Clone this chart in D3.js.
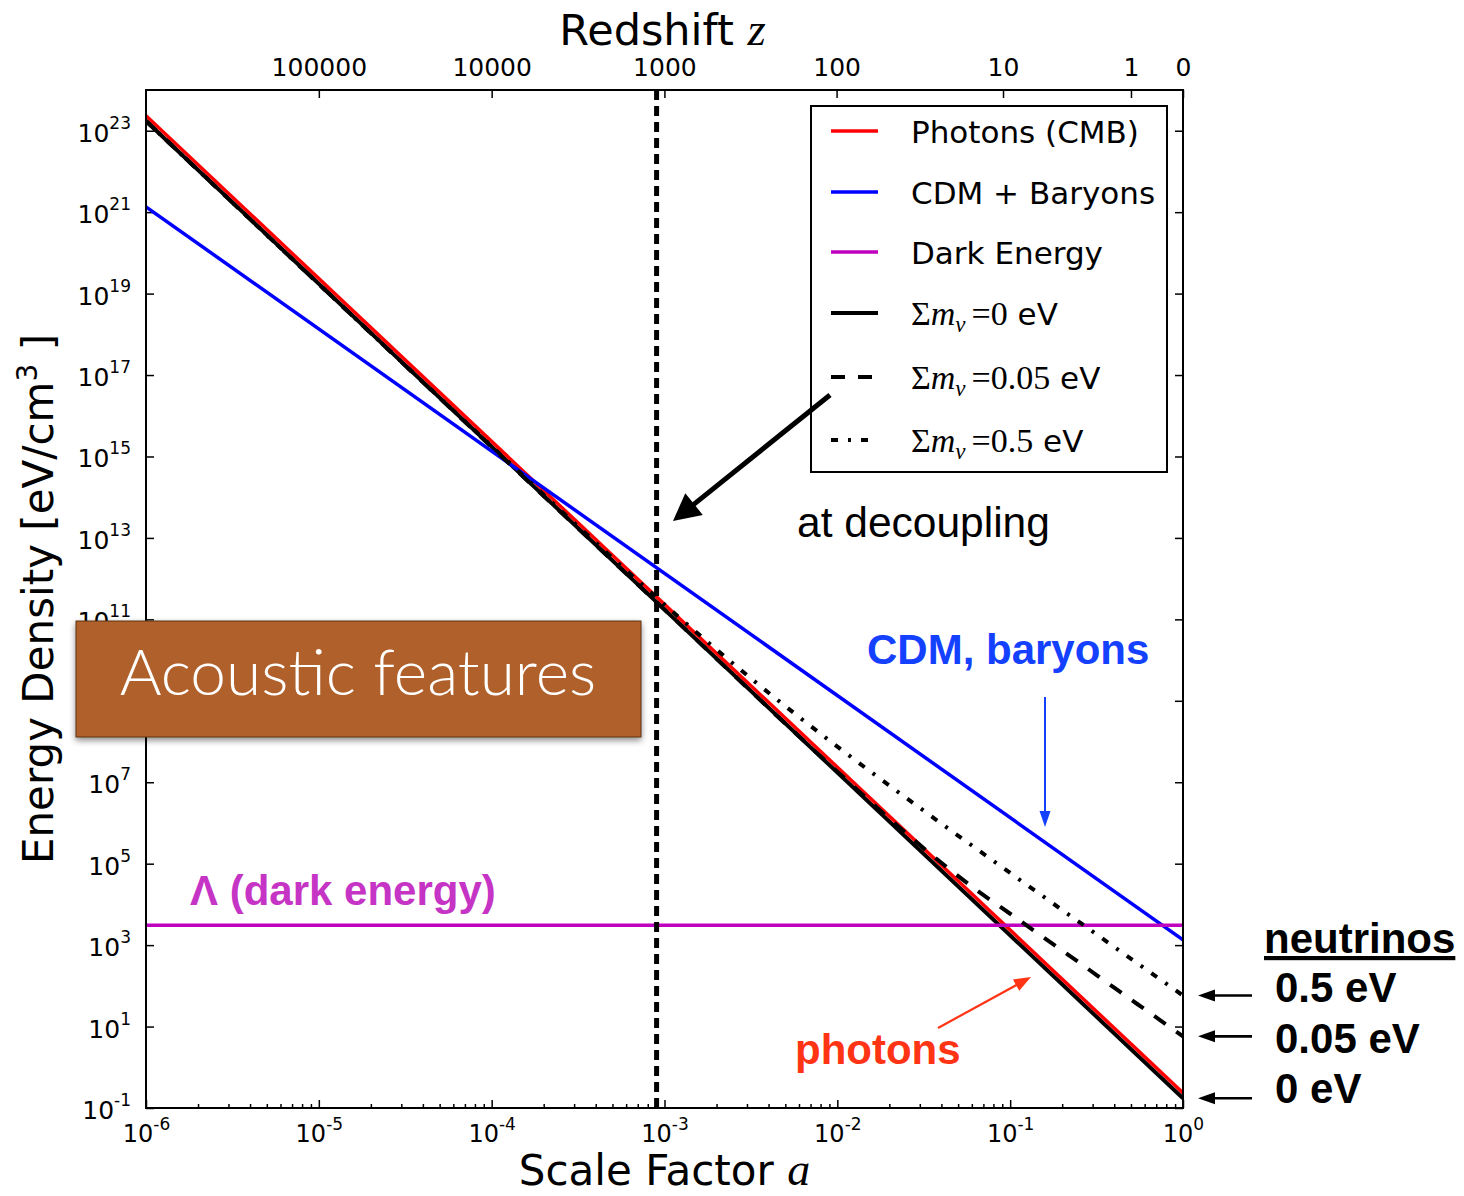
<!DOCTYPE html>
<html>
<head>
<meta charset="utf-8">
<script src="https://cdn.jsdelivr.net/npm/d3@7"></script>
<style>
  html, body { margin: 0; padding: 0; background: #fff; }
  svg { display: block; }
</style>
</head>
<body>
<svg id="chart" width="1464" height="1196"></svg>
<script>
// ---- energy density (eV/cm^3) against scale factor a ----
const photonA = [1e-6, 1];
const photonRho = [2.34e23, 0.234];
const matterA = [1e-6, 1];
const matterRho = [1.35e21, 1349];
const lambdaA = [1e-6, 1];
const lambdaRho = [3090, 3090];
const nu0A = [1e-6, 1];
const nu0Rho = [1.74e23, 0.174];
const nu005A = [1e-6, 1e-3, 1e-2, 0.0251, 0.0398, 0.0631, 0.1, 0.158, 0.251, 0.398, 0.631, 1];
const nu005Rho = [1.74e23, 1.74e11, 1.82e7, 5.5e5, 1.07e5, 2.34e4, 5890, 1480, 372, 91.2, 22.9, 5.75];
const nu05A = [1e-6, 1e-4, 3.16e-4, 1e-3, 1.78e-3, 3.16e-3, 5.62e-3, 1e-2, 0.0316, 0.1, 0.316, 1];
const nu05Rho = [1.74e23, 1.79e15, 1.92e13, 2.31e11, 2.76e10, 3.56e9, 4.98e8, 7.50e7, 2.0e6, 5.93e4, 1840, 57.7];
const aDecoupling = 9.0e-4;

// ---- axis ticks ----
const xTicks = [1e-6, 1e-5, 1e-4, 1e-3, 1e-2, 1e-1, 1];
const xTickExp = ["-6", "-5", "-4", "-3", "-2", "-1", "0"];
const yTicks = [1e-1, 1e1, 1e3, 1e5, 1e7, 1e9, 1e11, 1e13, 1e15, 1e17, 1e19, 1e21, 1e23];
const yTickExp = ["-1", "1", "3", "5", "7", "9", "11", "13", "15", "17", "19", "21", "23"];
const zTicks = [100000, 10000, 1000, 100, 10, 1, 0];
const zTickLabels = ["100000", "10000", "1000", "100", "10", "1", "0"];

// ---- legend ----
const legendLabels = ["Photons (CMB)", "CDM + Baryons", "Dark Energy", "0 eV", "0.05 eV", "0.5 eV"];
const legendMath = ["", "", "", "0", "0.05", "0.5"];

const SANS = "'DejaVu Sans', sans-serif";
const SERIF = "'Liberation Serif', 'DejaVu Serif', serif";
const HELV = "'Liberation Sans', Arial, sans-serif";

const svg = d3.select("#chart");
const pL = 146, pR = 1183, pT = 90, pB = 1108;

const x = d3.scaleLog().domain([1e-6, 1]).range([pL, pR]);
const y = d3.scaleLog().domain([1e-1, 1e24]).range([pB, pT]);

const defs = svg.append("defs");
defs.append("clipPath").attr("id", "plotClip")
  .append("rect").attr("x", pL).attr("y", pT)
  .attr("width", pR - pL).attr("height", pB - pT);
const shadow = defs.append("filter").attr("id", "boxShadow")
  .attr("x", "-10%").attr("y", "-10%").attr("width", "120%").attr("height", "130%");
shadow.append("feDropShadow").attr("dx", 0).attr("dy", 3).attr("stdDeviation", 3)
  .attr("flood-color", "#000").attr("flood-opacity", 0.45);

// ---- axes ----
function styleAxis(g) {
  g.select(".domain").remove();
  g.selectAll(".tick line").attr("stroke", "#000").attr("stroke-width", 1.5);
}
function powerLabels(g, exps, supDy) {
  g.selectAll(".tick text").each(function (d, i) {
    const t = d3.select(this);
    t.text(null);
    t.append("tspan").text("10");
    t.append("tspan").attr("dy", supDy).attr("font-size", 17).text(exps[i]);
  });
}

// bottom: scale factor
const minorX = [];
for (let e = -6; e < 0; e++) for (let k = 2; k <= 9; k++) minorX.push(k * Math.pow(10, e));
svg.append("g").attr("transform", `translate(0,${pB})`)
  .call(d3.axisBottom(x).tickValues(minorX).tickSize(-4).tickSizeOuter(0).tickFormat(""))
  .call(styleAxis);
svg.append("g").attr("transform", `translate(0,${pB})`)
  .call(d3.axisBottom(x).tickValues(xTicks).tickSize(-8).tickSizeOuter(0))
  .call(styleAxis)
  .call(g => g.selectAll(".tick text").attr("font-family", SANS).attr("font-size", 24)
    .attr("fill", "#000").attr("y", 34).attr("dy", 0))
  .call(g => powerLabels(g, xTickExp, -12));

// top: redshift
svg.append("g").attr("transform", `translate(0,${pT})`)
  .call(d3.axisTop(x).tickValues(zTicks.map(z => 1 / (1 + z))).tickSize(-8).tickSizeOuter(0)
    .tickPadding(14).tickFormat((d, i) => zTickLabels[i]))
  .call(styleAxis)
  .call(g => g.selectAll(".tick text").attr("font-family", SANS).attr("font-size", 25).attr("fill", "#000"));

// left: energy density
svg.append("g").attr("transform", `translate(${pL},0)`)
  .call(d3.axisLeft(y).tickValues(yTicks).tickSize(-8).tickSizeOuter(0).tickPadding(15))
  .call(styleAxis)
  .call(g => g.selectAll(".tick text").attr("font-family", SANS).attr("font-size", 25)
    .attr("fill", "#000").attr("dy", "0.42em"))
  .call(g => powerLabels(g, yTickExp, -13));

// right: mirrored ticks
svg.append("g").attr("transform", `translate(${pR},0)`)
  .call(d3.axisRight(y).tickValues(yTicks).tickSize(-8).tickSizeOuter(0).tickFormat(""))
  .call(styleAxis);

// ---- curves ----
const line = d3.line().x(d => x(d[0])).y(d => y(d[1])).curve(d3.curveMonotoneX);
const zip = (a, r) => a.map((v, i) => [v, r[i]]);
const plot = svg.append("g").attr("clip-path", "url(#plotClip)");

const series = [
  { a: nu0A, r: nu0Rho, color: "#000", w: 4, dash: null },
  { a: photonA, r: photonRho, color: "#ff0000", w: 3.5, dash: null },
  { a: matterA, r: matterRho, color: "#0000ff", w: 3.5, dash: null },
  { a: lambdaA, r: lambdaRho, color: "#bf00bf", w: 3.5, dash: null },
  { a: nu005A, r: nu005Rho, color: "#000", w: 4, dash: "14,13" },
  { a: nu05A, r: nu05Rho, color: "#000", w: 4, dash: "7,10,3,10" }
];
series.forEach(s => {
  plot.append("path").datum(zip(s.a, s.r))
    .attr("d", line).attr("fill", "none")
    .attr("stroke", s.color).attr("stroke-width", s.w)
    .attr("stroke-dasharray", s.dash);
});

// decoupling epoch
plot.append("line")
  .attr("x1", x(aDecoupling)).attr("x2", x(aDecoupling))
  .attr("y1", pT).attr("y2", pB)
  .attr("stroke", "#000").attr("stroke-width", 5).attr("stroke-dasharray", "10,6");

// frame
svg.append("rect").attr("x", pL).attr("y", pT)
  .attr("width", pR - pL).attr("height", pB - pT)
  .attr("fill", "none").attr("stroke", "#000").attr("stroke-width", 2);

// ---- axis titles ----
const xt = svg.append("text").attr("x", (pL + pR) / 2).attr("y", 1185)
  .attr("text-anchor", "middle").attr("font-family", SANS).attr("font-size", 42);
xt.append("tspan").text("Scale Factor ");
xt.append("tspan").attr("font-family", SERIF).attr("font-style", "italic").attr("font-size", 46).text("a");

const zt = svg.append("text").attr("x", (pL + pR) / 2 - 2).attr("y", 45)
  .attr("text-anchor", "middle").attr("font-family", SANS).attr("font-size", 43);
zt.append("tspan").text("Redshift ");
zt.append("tspan").attr("font-family", SERIF).attr("font-style", "italic").attr("font-size", 47).text("z");

const yt = svg.append("text").attr("transform", `translate(53,${(pT + pB) / 2}) rotate(-90)`)
  .attr("text-anchor", "middle").attr("font-family", SANS).attr("font-size", 42);
yt.append("tspan").text("Energy Density [eV/cm");
yt.append("tspan").attr("dy", -16).attr("font-size", 28).text("3");
yt.append("tspan").attr("dy", 16).text(" ]");

// ---- legend ----
const lg = svg.append("g");
lg.append("rect").attr("x", 811).attr("y", 106).attr("width", 356).attr("height", 366)
  .attr("fill", "#fff").attr("stroke", "#000").attr("stroke-width", 2);
const legendY = [131, 192, 252, 313, 377, 440];
const legendOrder = [1, 2, 3, 0, 4, 5];
legendOrder.forEach((si, i) => {
  const s = series[si];
  const ly = legendY[i];
  lg.append("line").attr("x1", 831).attr("x2", 878).attr("y1", ly).attr("y2", ly)
    .attr("stroke", s.color).attr("stroke-width", s.w).attr("stroke-dasharray", s.dash);
  const t = lg.append("text").attr("x", 911).attr("y", ly + 11.5)
    .attr("font-family", SANS).attr("font-size", 31).attr("fill", "#000");
  if (legendMath[i] === "") {
    t.text(legendLabels[i]);
  } else {
    t.append("tspan").attr("font-family", SERIF).attr("font-size", 34).text("Σ");
    t.append("tspan").attr("font-family", SERIF).attr("font-style", "italic").attr("font-size", 34).text("m");
    t.append("tspan").attr("font-family", SERIF).attr("font-style", "italic").attr("font-size", 23)
      .attr("dy", 7).text("ν");
    t.append("tspan").attr("font-family", SERIF).attr("font-size", 34).attr("dy", -7).attr("dx", 6)
      .text("=" + legendMath[i]);
    t.append("tspan").text(" eV");
  }
});

// ---- annotations ----
function arrow(g, x1, y1, x2, y2, color, w, headLen, headW) {
  const dx = x2 - x1, dy = y2 - y1, L = Math.hypot(dx, dy), ux = dx / L, uy = dy / L;
  const bx = x2 - ux * headLen, by = y2 - uy * headLen;
  g.append("line").attr("x1", x1).attr("y1", y1).attr("x2", bx + ux * 2).attr("y2", by + uy * 2)
    .attr("stroke", color).attr("stroke-width", w);
  g.append("polygon")
    .attr("points", [[x2, y2], [bx - uy * headW / 2, by + ux * headW / 2], [bx + uy * headW / 2, by - ux * headW / 2]]
      .map(p => p.join(",")).join(" "))
    .attr("fill", color);
}
const ann = svg.append("g");

// decoupling
arrow(ann, 830, 395, 673, 521, "#000", 5, 27, 28);
ann.append("text").attr("x", 797).attr("y", 537).attr("font-family", HELV).attr("font-size", 42.5)
  .attr("fill", "#000").text("at decoupling");

// CDM, baryons
ann.append("text").attr("x", 867).attr("y", 664).attr("font-family", HELV).attr("font-weight", "bold")
  .attr("font-size", 42).attr("fill", "#1440ff").text("CDM, baryons");
arrow(ann, 1045, 697, 1045, 827, "#1440ff", 2, 16, 11);

// photons
ann.append("text").attr("x", 795).attr("y", 1064).attr("font-family", HELV).attr("font-weight", "bold")
  .attr("font-size", 42).attr("fill", "#ff3414").text("photons");
arrow(ann, 938, 1028, 1031, 977, "#ff3414", 2.2, 17, 13);

// dark energy
ann.append("text").attr("x", 190).attr("y", 905).attr("font-family", HELV).attr("font-weight", "bold")
  .attr("font-size", 42).attr("fill", "#c534c5").text("Λ (dark energy)");

// neutrinos at a = 1
ann.append("text").attr("x", 1264).attr("y", 953).attr("font-family", HELV).attr("font-weight", "bold")
  .attr("font-size", 42).attr("fill", "#000").attr("text-decoration", "underline").text("neutrinos");
const nuEnds = [
  { rho: nu05Rho[nu05Rho.length - 1], label: "0.5 eV", dy: 6 },
  { rho: nu005Rho[nu005Rho.length - 1], label: "0.05 eV", dy: 17 },
  { rho: nu0Rho[nu0Rho.length - 1], label: "0 eV", dy: 5 }
];
nuEnds.forEach(n => {
  const yy = y(n.rho);
  arrow(ann, 1252, yy, 1198, yy, "#000", 2.6, 17, 12);
  ann.append("text").attr("x", 1275).attr("y", yy + n.dy).attr("font-family", HELV).attr("font-weight", "bold")
    .attr("font-size", 42).attr("fill", "#000").text(n.label);
});

// acoustic features panel
const box = svg.append("g");
box.append("rect").attr("x", 76).attr("y", 621).attr("width", 565).attr("height", 116)
  .attr("fill", "#b0602a").attr("stroke", "#5a3414").attr("stroke-width", 1)
  .attr("filter", "url(#boxShadow)");
box.append("text").attr("x", 358).attr("y", 695).attr("text-anchor", "middle")
  .attr("font-family", "'Helvetica Neue', Lato, 'Open Sans', sans-serif").attr("font-weight", 300)
  .attr("font-size", 64).attr("fill", "#fff").text("Acoustic features");
</script>
</body>
</html>
